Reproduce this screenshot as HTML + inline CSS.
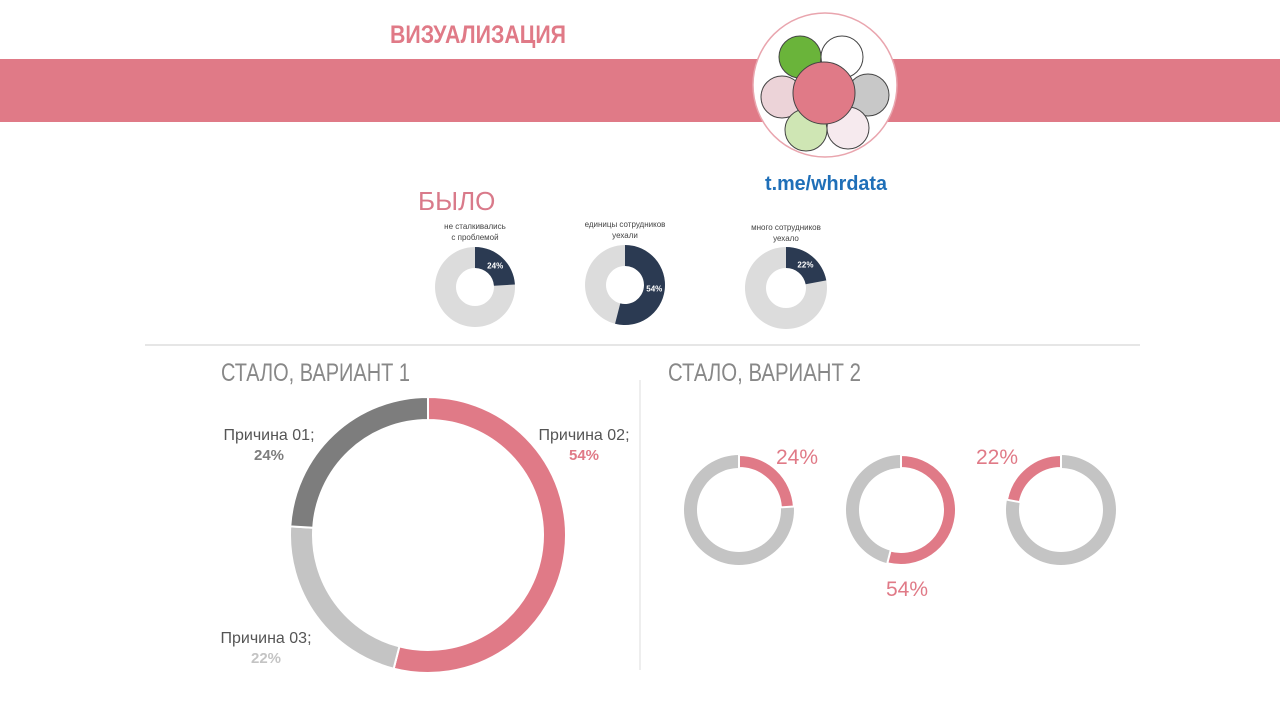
<!DOCTYPE html>
<html><head><meta charset="utf-8"><style>
body{margin:0;width:1280px;height:719px;background:#fff;overflow:hidden;font-family:"Liberation Sans","DejaVu Sans",sans-serif}
svg{display:block}
</style></head><body>
<svg width="1280" height="719" id="chart">
<rect x="0" y="59" width="1280" height="63" fill="#e07a87"/>
<text x="390" y="43" font-size="25" font-weight="bold" fill="#e07a87" textLength="176" lengthAdjust="spacingAndGlyphs">ВИЗУАЛИЗАЦИЯ</text>
<g>
<circle cx="825" cy="85" r="72" fill="#fff" stroke="#e9a5ae" stroke-width="1.5"/>
<circle cx="800" cy="57" r="21" fill="#6ab43a" stroke="#444"/>
<circle cx="842" cy="57" r="21" fill="#fff" stroke="#444"/>
<circle cx="782" cy="97" r="21" fill="#ecd3d8" stroke="#444"/>
<circle cx="868" cy="95" r="21" fill="#c8c8c8" stroke="#444"/>
<circle cx="806" cy="130" r="21" fill="#cfe6b4" stroke="#444"/>
<circle cx="848" cy="128" r="21" fill="#f6eaee" stroke="#444"/>
<circle cx="824" cy="93" r="31" fill="#e07a87" stroke="#444"/>
<text x="826" y="190" font-size="20" font-weight="bold" fill="#1f6fb8" text-anchor="middle" textLength="122" lengthAdjust="spacingAndGlyphs">t.me/whrdata</text>
</g>
<text x="418" y="210" font-size="26" fill="#d97a8a">БЫЛО</text>
<line x1="145" y1="345" x2="1140" y2="345" stroke="#ccc"/>
<line x1="640" y1="380" x2="640" y2="670" stroke="#ddd"/>
<text x="221" y="381" font-size="25" fill="#888" textLength="189" lengthAdjust="spacingAndGlyphs">СТАЛО, ВАРИАНТ 1</text>
<text x="668" y="381" font-size="25" fill="#888" textLength="193" lengthAdjust="spacingAndGlyphs">СТАЛО, ВАРИАНТ 2</text>
<g id="g"></g>
</svg>
<script>
const categories=["не сталкивались с проблемой","единицы сотрудников уехали","много сотрудников уехало"];
const values=[24,54,22];
const reasonLabels=["Причина 01;","Причина 02;","Причина 03;"];
const NS="http://www.w3.org/2000/svg";
const g=document.getElementById('g');
function mk(t,a,p){const e=document.createElementNS(NS,t);for(const k in a)e.setAttribute(k,a[k]);(p||g).appendChild(e);return e;}
function arc(cx,cy,R,r,a0,a1){
 if(a1-a0>=0.9999){a1=a0+0.9999;}
 const A=v=>v*2*Math.PI-Math.PI/2;const p=(rr,v)=>[cx+rr*Math.cos(A(v)),cy+rr*Math.sin(A(v))];
 const L=(a1-a0)>0.5?1:0;const[a,b]=p(R,a0),[c,d]=p(R,a1),[e,f]=p(r,a1),[h,i]=p(r,a0);
 return `M${a},${b}A${R},${R} 0 ${L} 1 ${c},${d}L${e},${f}A${r},${r} 0 ${L} 0 ${h},${i}Z`;
}
// before donuts
const bc=[[475,287,40,19],[625,285,40,19],[786,288,41,20]];
const lblLines=[["не сталкивались","с проблемой"],["единицы сотрудников","уехали"],["много сотрудников","уехало"]];
values.forEach((v,i)=>{const[cx,cy,R,r]=bc[i];
 let e=mk('path',{d:arc(cx,cy,R,r,0,1),fill:'#dcdcdc'});
 
 e=mk('path',{d:arc(cx,cy,R,r,0,v/100),fill:'#2b3a52'});
 
 const ang=(v/200)*2*Math.PI-Math.PI/2;const rm=(R+r)/2;
 e=mk('text',{x:cx+rm*Math.cos(ang),y:cy+rm*Math.sin(ang)+3,'font-size':8,'font-weight':'bold',fill:'#fff','text-anchor':'middle'});e.textContent=v+'%';
 
 lblLines[i].forEach((l,j)=>{e=mk('text',{x:cx,y:cy-58+j*11,'font-size':8,fill:'#444','text-anchor':'middle'});e.textContent=l;
 });
});
// big donut: order clockwise from top: 02, 03, 01
const order=[1,2,0];const bigCols=['#7d7d7d','#e07a87','#c4c4c4'];
let acc=0;order.forEach(k=>{const e=mk('path',{d:arc(428,535,138,115,acc,acc+values[k]/100),fill:bigCols[k],stroke:'#fff','stroke-width':2});
 acc+=values[k]/100;});
const lp=[[269,440],[584,440],[266,643]];
values.forEach((v,i)=>{let e=mk('text',{x:lp[i][0],y:lp[i][1],'font-size':16,fill:'#555','text-anchor':'middle'});e.textContent=reasonLabels[i];
 
 e=mk('text',{x:lp[i][0],y:lp[i][1]+20,'font-size':15,'font-weight':'bold',fill:bigCols[i],'text-anchor':'middle'});e.textContent=v+'%';
 });
// variant 2
const v2=[[739,510],[901,510],[1061,510]];const vl=[[797,464],[907,596],[997,464]];
values.forEach((v,i)=>{const[cx,cy]=v2[i];const s=i==2?1-v/100:0;
 let e=mk('path',{d:arc(cx,cy,55,42,0,1),fill:'#c4c4c4'});
 e=mk('path',{d:arc(cx,cy,55,42,s,s+v/100),fill:'#e07a87',stroke:'#fff','stroke-width':2});
 
 e=mk('text',{x:vl[i][0],y:vl[i][1],'font-size':21,fill:'#e07a87','text-anchor':'middle'});e.textContent=v+'%';
 });
</script>
</body></html>
